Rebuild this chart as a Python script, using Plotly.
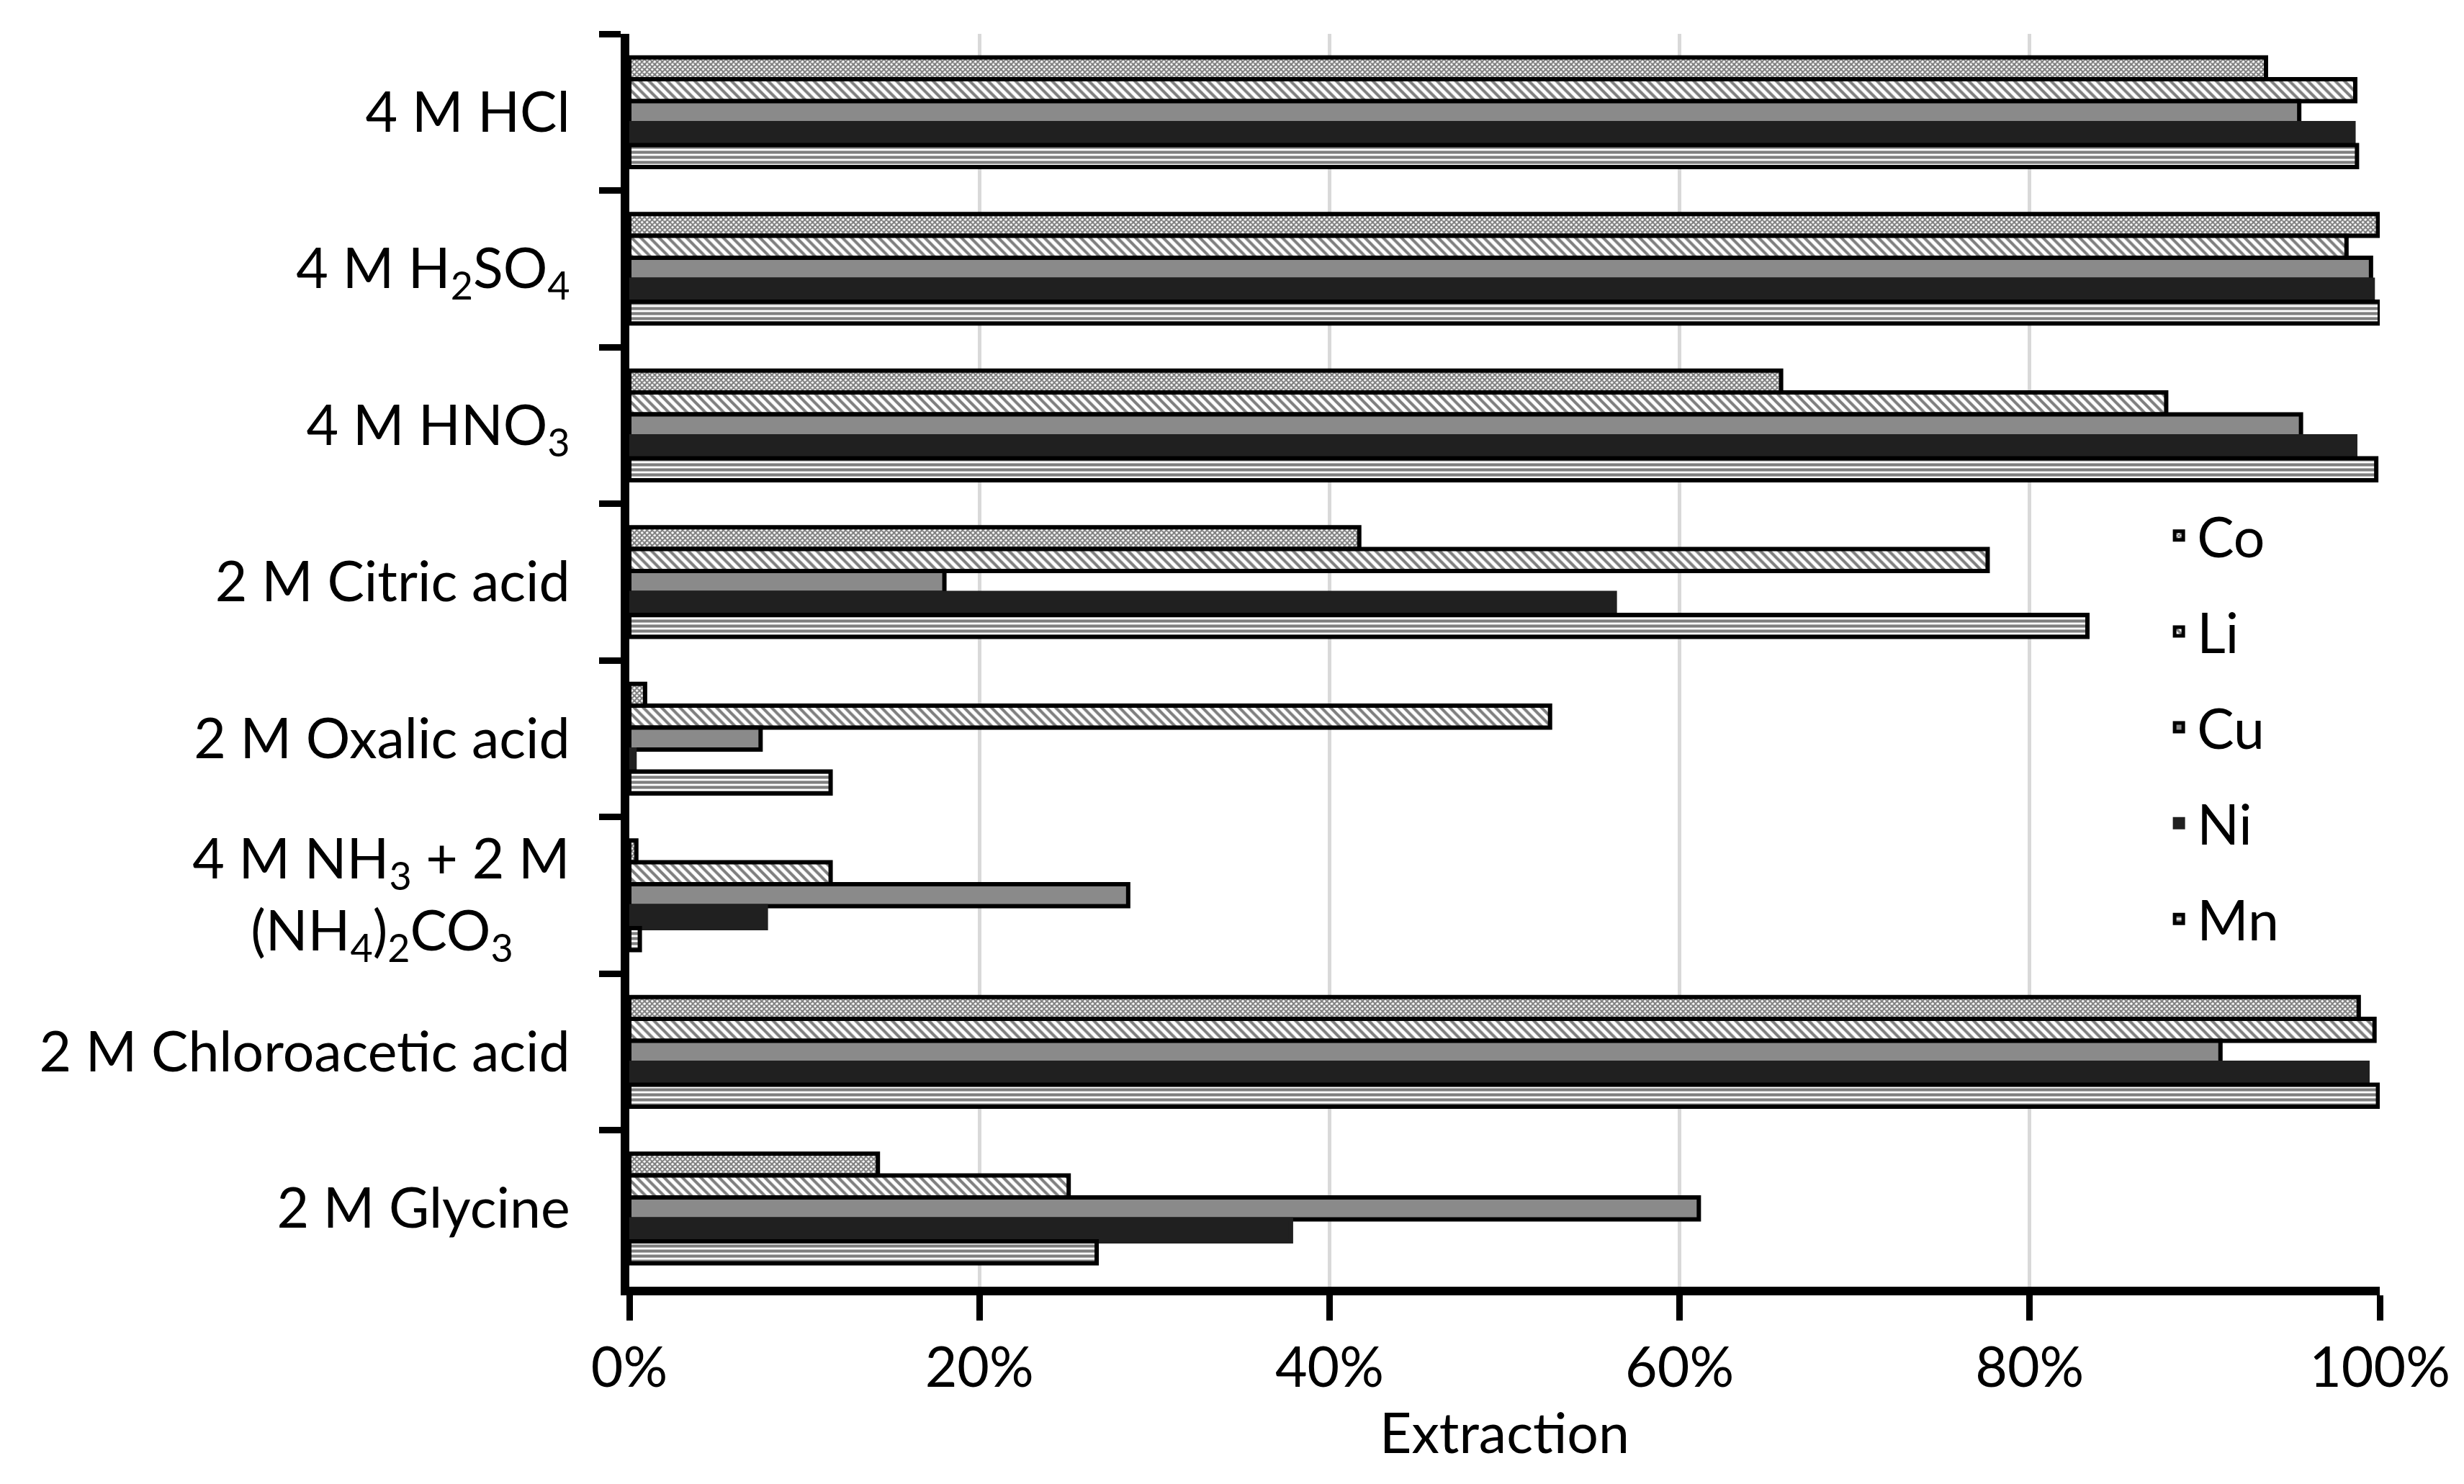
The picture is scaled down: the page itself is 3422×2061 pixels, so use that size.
import plotly.graph_objects as go

categories = [
    "4 M HCl",
    "4 M H<sub>2</sub>SO<sub>4</sub>",
    "4 M HNO<sub>3</sub>",
    "2 M Citric acid",
    "2 M Oxalic acid",
    "4 M NH<sub>3</sub> + 2 M<br>(NH<sub>4</sub>)<sub>2</sub>CO<sub>3</sub>" + "\u00a0" * 4,
    "2 M Chloroacetic acid",
    "2 M Glycine",
]
series_names = ["Co", "Li", "Cu", "Ni", "Mn"]
co = [0.935, 0.999, 0.658, 0.417, 0.009, 0.004, 0.988, 0.142]
li = [0.986, 0.981, 0.878, 0.776, 0.526, 0.115, 0.997, 0.251]
cu = [0.954, 0.995, 0.955, 0.180, 0.075, 0.285, 0.909, 0.611]
ni = [0.985, 0.996, 0.986, 0.563, 0.003, 0.078, 0.993, 0.378]
mn = [0.987, 1.000, 0.998, 0.833, 0.115, 0.006, 0.999, 0.267]
x_ticks = [0, 0.2, 0.4, 0.6, 0.8, 1.0]
x_title = "Extraction"

values = [co, li, cu, ni, mn]
styles = [
    dict(color="white", line=dict(color="black", width=6),
         pattern=dict(shape="x", fgcolor="black", bgcolor="white", size=5, solidity=0.65, fillmode="overlay")),
    dict(color="white", line=dict(color="black", width=6),
         pattern=dict(shape="\\", fgcolor="black", bgcolor="white", size=9, solidity=0.45, fillmode="overlay")),
    dict(color="#8a8a8a", line=dict(color="black", width=6)),
    dict(color="#202020", line=dict(color="#202020", width=6)),
    dict(color="white", line=dict(color="black", width=6),
         pattern=dict(shape="-", fgcolor="black", bgcolor="white", size=7, solidity=0.6, fillmode="overlay")),
]

FONT = "Lato"
FS = 77
fig = go.Figure()
for name, vals, st in zip(series_names, values, styles):
    fig.add_trace(go.Bar(y=categories, x=vals, name=name, orientation="h",
                         marker=st, legendgroup=name))

fig.update_layout(
    width=3422, height=2061,
    margin=dict(l=866, r=125, t=39, b=282),
    paper_bgcolor="white", plot_bgcolor="white",
    barmode="group", bargap=0.3, bargroupgap=0,
    font=dict(family=FONT, size=FS, color="black"),
    legend=dict(x=0.875, y=0.632, xanchor="left", yanchor="top",
                font=dict(family=FONT, size=FS, color="black"),
                traceorder="grouped",
                bgcolor="rgba(0,0,0,0)", tracegroupgap=30, itemwidth=40),
    showlegend=True,
)
fig.update_xaxes(
    range=[0, 1], tickvals=x_ticks, tickformat=".0%",
    showgrid=True, gridcolor="#d9d9d9", gridwidth=5,
    showline=True, linecolor="black", linewidth=12,
    ticks="outside", ticklen=35, tickwidth=9, tickcolor="black",
    zeroline=False,
    title=dict(text=x_title, font=dict(family=FONT, size=FS), standoff=28),
    ticklabelstandoff=0,
)
fig.update_yaxes(
    autorange="reversed", showgrid=False,
    showline=True, linecolor="black", linewidth=12,
    ticks="outside", ticklen=30, tickwidth=9, tickcolor="black",
    tickson="boundaries", ticklabelstandoff=55,
)

fig.write_html("out.html")
